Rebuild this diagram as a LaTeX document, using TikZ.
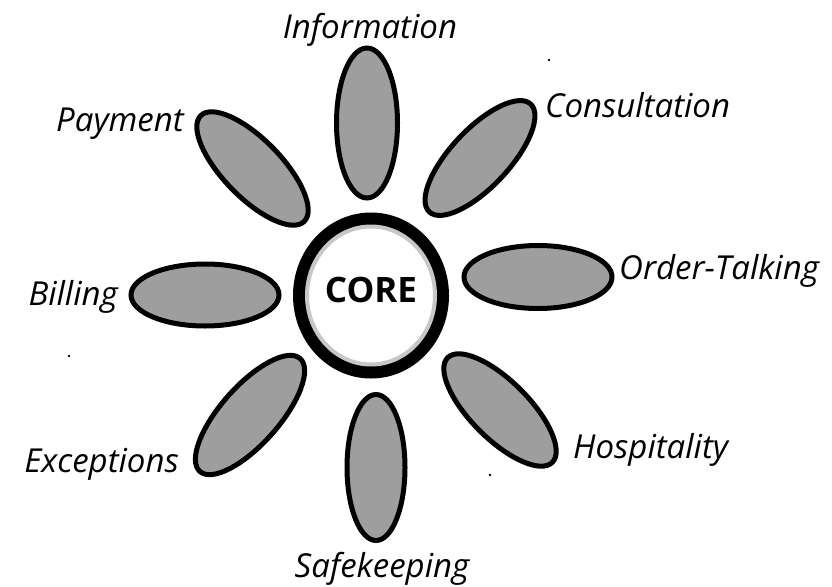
\documentclass[tikz,border=0pt]{standalone}
\usepackage{fontspec}
\setmainfont{Open Sans}
\usetikzlibrary{shapes.geometric}
\begin{document}
\begin{tikzpicture}[x=1pt,y=-1pt,
  petal/.style={ellipse, draw=black, line width=5pt, fill=black!38,
    inner sep=0pt, minimum width=58pt, minimum height=148pt},
  tag/.style={font=\itshape\fontsize{33}{36}\selectfont, inner sep=0pt},
  speck/.style={fill=black, draw=none}]
\useasboundingbox (0,0) rectangle (832,586);

% central core ring
\node[ellipse, draw=black, line width=13pt, fill=white, inner sep=0pt,
      minimum width=143pt, minimum height=153pt] (core) at (371,295.5) {};
\node[ellipse, draw=black!22, line width=4pt, inner sep=0pt,
      minimum width=128pt, minimum height=138pt] (corerim) at (371,295.5) {};
\node[font=\bfseries\fontsize{35}{38}\selectfont, inner sep=0pt, anchor=base]
      (coretext) at (371,302) {CORE};

% petals (major axis drawn vertically, then turned)
\node[petal, minimum width=61pt, minimum height=150pt] (info) at (367,123) {};
\node[petal, rotate=-43.3] (cons) at (480,158) {};
\node[petal, minimum width=63pt, rotate=90] (ord) at (538,277) {};
\node[petal, rotate=45] (hosp) at (500,410) {};
\node[petal, minimum width=58pt, minimum height=146pt] (safe) at (376,467.5) {};
\node[petal, minimum height=151pt, rotate=-41.6] (exc) at (250,415) {};
\node[petal, minimum width=62pt, rotate=90] (bill) at (205,295) {};
\node[petal, rotate=44.3] (pay) at (252.5,168.5) {};

% labels
\node[tag, anchor=base] (tinfo) at (370,38) {Information};
\node[tag, anchor=base west] (tcons) at (545,117) {Consultation};
\node[tag, anchor=base west] (tord) at (619,279) {Order-Talking};
\node[tag, anchor=base west] (thosp) at (573,458) {Hospitality};
\node[tag, anchor=base] (tsafe) at (382,577) {Safekeeping};
\node[tag, anchor=base east] (texc) at (179,472) {Exceptions};
\node[tag, anchor=base east] (tbill) at (118,305) {Billing};
\node[tag, anchor=base east] (tpay) at (184,131) {Payment};

% stray specks
\fill[speck] (549,60) circle (1.3);
\fill[speck] (69,356) circle (1.3);
\fill[speck] (490,475) circle (1.3);
\end{tikzpicture}
\end{document}
